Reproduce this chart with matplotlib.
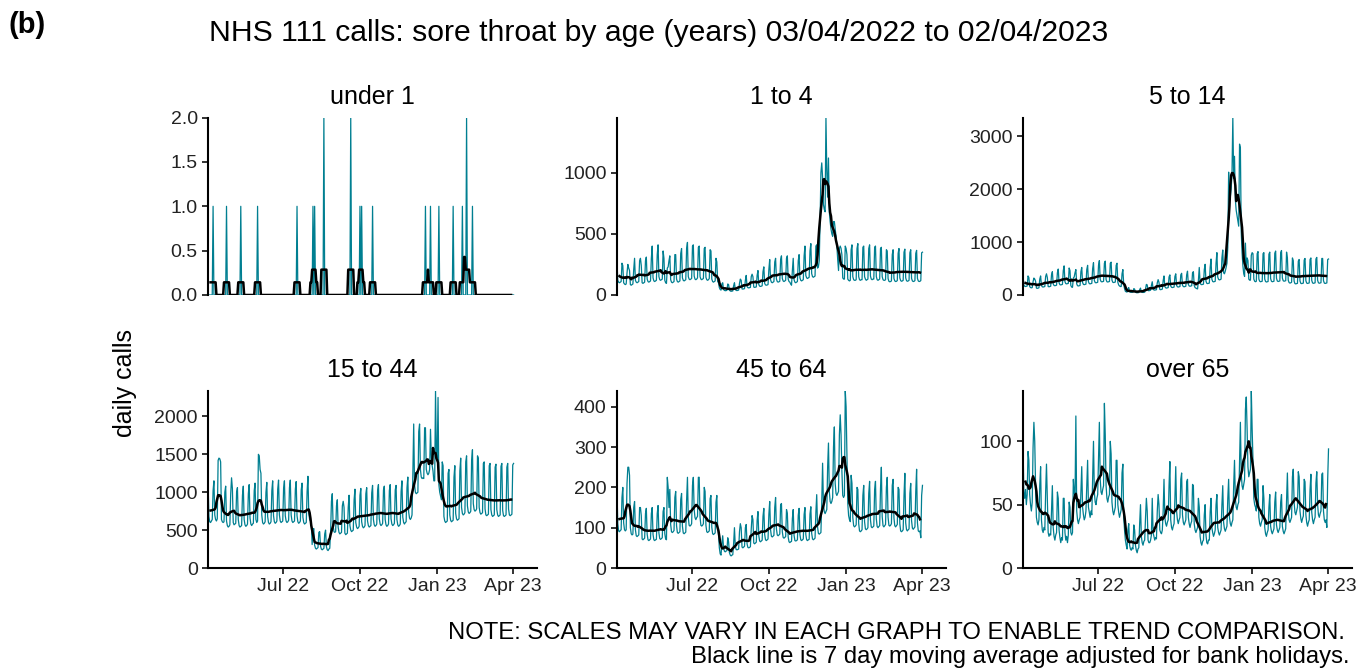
import numpy as np
import pandas as pd
import matplotlib
matplotlib.use("Agg")
from matplotlib import pyplot as plt
import matplotlib.dates as mdates
from matplotlib.ticker import MultipleLocator, FormatStrFormatter

plt.rcParams['font.family'] = ['Liberation Sans', 'DejaVu Sans']

# daily calls, one row per week (Sun..Sat), first day Sun 03/04/2022, last day Sun 02/04/2023
under_1 = [
    [0, 0, 0, 0, 0, 0, 1], [0, 0, 0, 0, 0, 0, 0], [0, 0, 0, 0, 0, 0, 0], [0, 1, 0, 0, 0, 0, 0],
    [0, 0, 0, 0, 0, 0, 0], [0, 0, 0, 0, 1, 0, 0], [0, 0, 0, 0, 0, 0, 0], [0, 0, 0, 0, 0, 0, 0],
    [0, 0, 0, 1, 0, 0, 0], [0, 0, 0, 0, 0, 0, 0], [0, 0, 0, 0, 0, 0, 0], [0, 0, 0, 0, 0, 0, 0],
    [0, 0, 0, 0, 0, 0, 0], [0, 0, 0, 0, 0, 0, 0], [0, 0, 0, 0, 0, 0, 0], [0, 1, 0, 0, 0, 0, 0],
    [0, 0, 0, 0, 0, 0, 0], [0, 0, 0, 0, 0, 0, 1], [0, 1, 0, 0, 0, 0, 0], [0, 0, 0, 0, 0, 2, 0],
    [0, 0, 0, 0, 0, 0, 0], [0, 0, 0, 0, 0, 0, 0], [0, 0, 0, 0, 0, 0, 0], [0, 0, 0, 0, 0, 0, 0],
    [0, 0, 2, 0, 0, 0, 0], [0, 0, 0, 0, 0, 0, 1], [0, 1, 0, 0, 0, 0, 0], [0, 0, 0, 0, 0, 0, 0],
    [1, 0, 0, 0, 0, 0, 0], [0, 0, 0, 0, 0, 0, 0], [0, 0, 0, 0, 0, 0, 0], [0, 0, 0, 0, 0, 0, 0],
    [0, 0, 0, 0, 0, 0, 0], [0, 0, 0, 0, 0, 0, 0], [0, 0, 0, 0, 0, 0, 0], [0, 0, 0, 0, 0, 0, 0],
    [0, 0, 0, 0, 0, 0, 0], [1, 0, 0, 0, 0, 0, 1], [0, 0, 0, 0, 0, 0, 0], [0, 0, 1, 0, 0, 0, 0],
    [0, 0, 0, 0, 0, 0, 0], [0, 0, 0, 0, 0, 1, 0], [0, 0, 0, 0, 0, 0, 0], [0, 0, 1, 0, 0, 0, 0],
    [2, 0, 0, 0, 0, 0, 0], [1, 0, 0, 0, 0, 0, 0], [0, 0, 0, 0, 0, 0, 0], [0, 0, 0, 0, 0, 0, 0],
    [0, 0, 0, 0, 0, 0, 0], [0, 0, 0, 0, 0, 0, 0], [0, 0, 0, 0, 0, 0, 0], [0, 0, 0, 0, 0, 0, 0],
    [0],
]

age_1_4 = [
    [280, 120, 105, 100, 105, 110, 260], [240, 100, 90, 85, 90, 180, 250],
    [220, 200, 85, 80, 85, 90, 210], [300, 120, 105, 100, 105, 110, 280],
    [300, 240, 100, 95, 100, 105, 280], [310, 130, 110, 105, 110, 115, 300],
    [400, 140, 115, 110, 115, 120, 330], [410, 150, 125, 120, 125, 130, 360],
    [300, 120, 100, 95, 220, 230, 280], [320, 125, 105, 100, 105, 110, 330],
    [330, 130, 110, 105, 110, 115, 340], [380, 140, 120, 115, 120, 125, 380],
    [430, 150, 130, 125, 130, 135, 400], [410, 155, 130, 125, 130, 140, 390],
    [400, 150, 130, 125, 130, 135, 380], [390, 145, 125, 120, 125, 135, 370],
    [360, 130, 110, 105, 110, 115, 300], [270, 110, 100, 60, 45, 40, 90],
    [100, 45, 38, 35, 36, 38, 90], [85, 40, 33, 30, 32, 33, 75],
    [100, 45, 38, 36, 38, 40, 95], [130, 120, 50, 48, 50, 52, 120],
    [160, 70, 60, 58, 60, 62, 150], [170, 150, 65, 62, 64, 66, 160],
    [200, 85, 72, 70, 72, 75, 190], [230, 95, 82, 80, 82, 85, 210],
    [290, 125, 105, 100, 105, 110, 270], [300, 130, 110, 105, 108, 112, 290],
    [320, 135, 115, 110, 115, 120, 300], [320, 130, 110, 105, 90, 80, 200],
    [300, 125, 105, 100, 105, 110, 280], [330, 140, 120, 115, 120, 125, 320],
    [400, 160, 140, 135, 140, 145, 360], [420, 175, 150, 145, 150, 155, 400],
    [410, 220, 230, 280, 600, 1000, 1080], [960, 740, 700, 680, 1450, 1020, 800],
    [1120, 680, 600, 540, 500, 480, 600], [600, 540, 480, 400, 290, 200, 380],
    [400, 380, 330, 140, 130, 130, 400], [380, 330, 130, 120, 115, 120, 370],
    [410, 150, 125, 120, 120, 125, 380], [420, 150, 125, 120, 125, 125, 390],
    [400, 150, 130, 120, 125, 130, 380], [410, 155, 130, 125, 130, 130, 390],
    [400, 150, 125, 120, 125, 130, 380], [390, 150, 125, 120, 120, 125, 370],
    [360, 135, 112, 108, 110, 115, 330], [370, 135, 115, 110, 112, 118, 340],
    [380, 140, 118, 112, 115, 120, 350], [375, 140, 117, 112, 115, 120, 345],
    [370, 135, 115, 110, 112, 118, 340], [365, 135, 115, 110, 112, 118, 345],
    [350],
]

age_5_14 = [
    [380, 190, 165, 160, 165, 170, 360], [330, 160, 140, 135, 140, 250, 320],
    [300, 260, 130, 125, 130, 135, 300], [360, 180, 155, 150, 155, 160, 350],
    [400, 330, 160, 155, 160, 165, 380], [440, 210, 180, 175, 180, 185, 420],
    [490, 230, 195, 190, 195, 200, 460], [550, 250, 215, 210, 215, 220, 510],
    [460, 180, 150, 145, 320, 340, 420], [480, 210, 175, 170, 175, 180, 440],
    [520, 235, 200, 195, 200, 205, 480], [560, 250, 215, 210, 215, 220, 500],
    [610, 275, 235, 230, 235, 240, 560], [650, 295, 255, 248, 252, 258, 600],
    [640, 290, 250, 245, 250, 255, 600], [620, 280, 240, 235, 240, 245, 560],
    [600, 240, 190, 170, 160, 160, 400], [480, 200, 120, 70, 60, 55, 120],
    [140, 62, 52, 50, 52, 54, 120], [110, 52, 44, 42, 44, 46, 100],
    [130, 58, 50, 48, 50, 52, 115], [200, 190, 85, 80, 85, 90, 180],
    [250, 110, 95, 92, 95, 100, 230], [290, 240, 105, 100, 105, 110, 270],
    [360, 160, 135, 130, 135, 140, 340], [380, 170, 145, 140, 145, 150, 350],
    [400, 180, 155, 150, 155, 160, 380], [410, 185, 160, 155, 160, 165, 380],
    [450, 200, 170, 165, 170, 175, 420], [440, 180, 140, 130, 120, 115, 280],
    [520, 235, 200, 195, 200, 205, 480], [580, 260, 220, 215, 220, 225, 520],
    [680, 300, 255, 248, 252, 258, 600], [800, 340, 295, 285, 290, 300, 700],
    [850, 420, 400, 450, 520, 600, 900], [2320, 1800, 1850, 2000, 2300, 3350, 2200],
    [2620, 1800, 1600, 1500, 1400, 1300, 2850], [2780, 1200, 800, 550, 400, 350, 980],
    [500, 700, 650, 300, 280, 280, 750], [800, 780, 300, 260, 250, 260, 780],
    [820, 300, 260, 250, 255, 260, 780], [800, 300, 255, 245, 250, 255, 770],
    [810, 310, 260, 250, 255, 260, 790], [830, 315, 265, 255, 260, 265, 800],
    [840, 320, 270, 260, 265, 270, 810], [700, 280, 235, 225, 230, 240, 700],
    [650, 260, 215, 210, 215, 220, 640], [670, 265, 220, 215, 220, 225, 660],
    [690, 270, 225, 218, 222, 228, 670], [700, 275, 228, 220, 225, 230, 680],
    [710, 278, 230, 222, 228, 232, 690], [690, 270, 225, 218, 222, 228, 670],
    [680],
]

age_15_44 = [
    [1140, 680, 610, 600, 620, 640, 1020], [1150, 700, 640, 620, 650, 1420, 1450],
    [1440, 1400, 640, 610, 600, 610, 1000], [1080, 620, 560, 540, 550, 570, 980],
    [1190, 1050, 600, 570, 580, 590, 1000], [1060, 640, 560, 540, 550, 560, 960],
    [1080, 640, 570, 550, 560, 580, 980], [1100, 660, 580, 560, 580, 590, 1020],
    [1120, 640, 600, 620, 1500, 1480, 1300], [1250, 700, 600, 580, 590, 610, 1000],
    [1130, 680, 600, 580, 590, 610, 1020], [1150, 690, 610, 590, 600, 620, 1040],
    [1160, 700, 620, 600, 610, 620, 1050], [1150, 690, 620, 600, 610, 630, 1060],
    [1160, 700, 620, 600, 610, 620, 1040], [1140, 690, 610, 590, 600, 620, 1030],
    [1120, 670, 600, 580, 590, 600, 1010], [1210, 720, 640, 620, 600, 310, 500],
    [520, 300, 260, 250, 260, 270, 470], [480, 290, 250, 240, 250, 260, 450],
    [500, 280, 240, 230, 250, 260, 470], [880, 980, 560, 480, 470, 480, 820],
    [900, 540, 470, 450, 460, 470, 820], [880, 800, 460, 440, 450, 460, 800],
    [960, 560, 500, 480, 490, 500, 900], [1040, 600, 540, 520, 530, 550, 960],
    [1050, 610, 550, 530, 540, 560, 980], [1060, 620, 560, 540, 550, 560, 990],
    [1090, 640, 570, 550, 560, 580, 1020], [1100, 650, 580, 560, 570, 590, 1030],
    [1080, 640, 570, 550, 560, 580, 1020], [1100, 650, 580, 560, 570, 590, 1030],
    [1090, 640, 570, 550, 560, 580, 1010], [1150, 670, 600, 580, 600, 610, 1060],
    [1200, 740, 660, 640, 660, 700, 1250], [1900, 1100, 1000, 980, 990, 1000, 1800],
    [1900, 1300, 1200, 1180, 1190, 1180, 1850], [1850, 1300, 1250, 1230, 1250, 1300, 1830],
    [1450, 1350, 1280, 1150, 1150, 2340, 1500], [1450, 2250, 1100, 1000, 950, 900, 1400],
    [1350, 680, 620, 600, 610, 620, 1250], [1300, 700, 630, 610, 620, 630, 1200],
    [1350, 720, 650, 630, 640, 650, 1280], [1450, 800, 720, 700, 710, 730, 1400],
    [1480, 820, 740, 720, 730, 750, 1420], [1560, 850, 770, 750, 760, 780, 1480],
    [1450, 800, 730, 710, 720, 730, 1380], [1400, 780, 700, 690, 700, 710, 1350],
    [1380, 770, 700, 680, 690, 700, 1330], [1370, 770, 700, 680, 690, 700, 1340],
    [1380, 760, 690, 680, 690, 700, 1330], [1380, 780, 700, 690, 700, 710, 1360],
    [1380],
]

age_45_64 = [
    [195, 110, 92, 90, 93, 95, 175], [200, 112, 95, 92, 95, 210, 250],
    [250, 230, 100, 85, 82, 84, 150], [165, 95, 80, 78, 80, 82, 150],
    [150, 130, 72, 70, 72, 74, 135], [148, 84, 70, 68, 70, 72, 135],
    [150, 83, 70, 68, 70, 71, 135], [155, 87, 73, 71, 73, 75, 140],
    [150, 85, 72, 70, 225, 200, 150], [195, 108, 90, 88, 90, 93, 175],
    [190, 105, 88, 86, 88, 90, 170], [185, 104, 87, 85, 87, 89, 168],
    [225, 126, 106, 104, 106, 110, 205], [225, 145, 125, 120, 125, 128, 225],
    [225, 126, 106, 104, 106, 110, 200], [190, 106, 90, 88, 90, 92, 172],
    [180, 101, 85, 83, 85, 87, 163], [180, 100, 85, 50, 35, 32, 60],
    [80, 50, 42, 40, 42, 43, 75], [65, 38, 32, 30, 32, 33, 60],
    [100, 55, 46, 45, 46, 47, 90], [110, 100, 52, 50, 52, 54, 100],
    [108, 60, 51, 50, 51, 53, 97], [130, 120, 62, 60, 62, 64, 118],
    [140, 80, 67, 65, 67, 69, 128], [148, 83, 70, 68, 70, 72, 133],
    [165, 95, 79, 77, 79, 81, 150], [175, 97, 82, 80, 82, 84, 157],
    [160, 90, 76, 74, 76, 78, 145], [136, 77, 65, 63, 65, 66, 123],
    [145, 81, 68, 67, 68, 70, 131], [148, 83, 70, 68, 70, 72, 133],
    [150, 83, 70, 68, 70, 71, 134], [152, 86, 72, 70, 72, 74, 138],
    [182, 102, 86, 84, 86, 88, 164], [260, 160, 140, 135, 140, 145, 250],
    [310, 190, 165, 160, 165, 175, 300], [350, 210, 185, 180, 185, 190, 330],
    [380, 330, 240, 180, 175, 180, 440], [400, 280, 160, 130, 120, 115, 230],
    [210, 125, 105, 102, 104, 107, 200], [195, 110, 92, 90, 92, 95, 180],
    [205, 115, 97, 95, 97, 100, 185], [215, 120, 102, 100, 102, 104, 195],
    [215, 122, 103, 100, 103, 105, 197], [250, 128, 105, 102, 105, 108, 200],
    [225, 126, 106, 104, 106, 110, 205], [220, 124, 105, 102, 105, 108, 200],
    [195, 110, 92, 90, 92, 95, 180], [235, 112, 95, 92, 95, 97, 185],
    [210, 117, 99, 96, 99, 102, 190], [245, 112, 92, 90, 92, 75, 180],
    [205],
]

age_over_65 = [
    [100, 60, 55, 62, 50, 58, 92], [85, 58, 50, 45, 52, 95, 115],
    [100, 65, 40, 36, 34, 38, 65], [80, 38, 30, 28, 32, 30, 60],
    [82, 55, 28, 25, 27, 26, 45], [65, 32, 25, 22, 26, 28, 60],
    [55, 30, 24, 20, 24, 22, 55], [55, 28, 22, 25, 20, 26, 52],
    [48, 28, 26, 28, 70, 60, 55], [120, 45, 38, 35, 38, 40, 60],
    [80, 48, 42, 38, 40, 45, 65], [85, 48, 44, 40, 45, 42, 70],
    [100, 60, 52, 50, 55, 58, 85], [115, 70, 60, 58, 62, 65, 130],
    [105, 65, 55, 52, 56, 58, 100], [90, 52, 45, 42, 45, 48, 85],
    [85, 50, 44, 40, 43, 46, 75], [82, 40, 30, 22, 18, 15, 30],
    [35, 18, 15, 14, 16, 15, 34], [30, 18, 14, 12, 15, 16, 35],
    [50, 25, 20, 18, 21, 22, 40], [55, 45, 22, 20, 20, 22, 26],
    [55, 28, 25, 22, 24, 23, 45], [58, 50, 30, 28, 27, 30, 45],
    [70, 40, 35, 33, 36, 38, 65], [84, 38, 32, 30, 33, 35, 55],
    [80, 45, 38, 35, 38, 40, 70], [75, 42, 36, 34, 36, 38, 68],
    [70, 40, 35, 32, 35, 37, 66], [65, 35, 30, 28, 30, 32, 55],
    [48, 25, 20, 18, 21, 22, 42], [50, 26, 20, 19, 22, 22, 44],
    [55, 32, 28, 25, 27, 30, 50], [58, 32, 28, 26, 28, 30, 50],
    [65, 36, 31, 29, 31, 33, 55], [70, 40, 35, 33, 36, 38, 65],
    [85, 55, 48, 46, 50, 52, 85], [115, 75, 65, 62, 66, 70, 125],
    [135, 110, 80, 72, 75, 78, 140], [110, 85, 55, 50, 48, 45, 70],
    [70, 40, 35, 33, 36, 38, 65], [55, 32, 27, 25, 28, 30, 48],
    [58, 33, 29, 27, 29, 31, 52], [60, 34, 30, 28, 30, 32, 52],
    [58, 33, 29, 27, 29, 31, 52], [75, 45, 38, 36, 38, 40, 72],
    [78, 52, 44, 42, 45, 48, 76], [72, 45, 39, 36, 39, 41, 70],
    [68, 42, 36, 33, 36, 38, 62], [74, 44, 38, 35, 38, 40, 67],
    [76, 50, 42, 40, 43, 45, 74], [75, 45, 38, 36, 38, 32, 70],
    [94],
]

# bank holidays left out of the moving average
bank_holidays = ["2022-04-15", "2022-04-18", "2022-05-02", "2022-06-02", "2022-06-03",
                 "2022-08-29", "2022-09-19", "2022-12-26", "2022-12-27", "2023-01-02"]

titles = ["under 1", "1 to 4", "5 to 14", "15 to 44", "45 to 64", "over 65"]
series = [under_1, age_1_4, age_5_14, age_15_44, age_45_64, age_over_65]
tick_steps = [0.5, 500, 1000, 500, 100, 50]

dates = pd.date_range("2022-04-03", "2023-04-02", freq="D")
x_ticks = pd.to_datetime(["2022-07-01", "2022-10-01", "2023-01-01", "2023-04-01"])
is_bh = dates.isin(pd.to_datetime(bank_holidays))
teal = "#007F91"

fig = plt.figure(figsize=(13.58, 6.68), dpi=100)

lefts = [0.1532, 0.4543, 0.7533]
bottoms = [0.5584, 0.1497]
w, h = 0.2423, 0.2655

for i, (name, weeks) in enumerate(zip(titles, series)):
    row, col = divmod(i, 3)
    ax = fig.add_axes([lefts[col], bottoms[row], w, h])
    daily = np.array([v for wk in weeks for v in wk], dtype=float)
    s = pd.Series(daily, index=dates)
    if i == 0:
        ma = s.rolling(7, center=True).mean()
    else:
        ma = s.mask(is_bh).rolling(7, center=True, min_periods=5).mean()
        ma.iloc[:3] = np.nan
        ma.iloc[-3:] = np.nan

    ax.plot(dates, daily, color=teal, lw=0.9)
    ax.plot(dates, ma, color="black", lw=1.8)

    ax.set_xlim(pd.Timestamp("2022-04-03"), pd.Timestamp("2023-04-30"))
    ax.set_ylim(0, daily.max())
    ax.yaxis.set_major_locator(MultipleLocator(tick_steps[i]))
    if i == 0:
        ax.yaxis.set_major_formatter(FormatStrFormatter("%.1f"))

    for sp in ["top", "right"]:
        ax.spines[sp].set_visible(False)
    ax.spines["left"].set_linewidth(1.5)
    ax.spines["bottom"].set_linewidth(1.5)
    ax.tick_params(axis="both", length=4, width=1.3, labelsize=14, colors="#222222", labelcolor="#222222")

    if row == 0:
        ax.spines["bottom"].set_visible(False)
        ax.set_xticks([])
    else:
        ax.set_xticks(x_ticks)
        ax.xaxis.set_major_formatter(mdates.DateFormatter("%b %y"))

    ax.set_title(name, fontsize=18, pad=10)

fig.text(0.006, 0.962, "(b)", fontsize=21, fontweight="bold", va="center")
fig.text(0.485, 0.950, "NHS 111 calls: sore throat by age (years) 03/04/2022 to 02/04/2023",
         fontsize=21.7, ha="center", va="center")
fig.text(0.092, 0.427, "daily calls", fontsize=18, rotation=90, ha="center", va="center")
fig.text(0.990, 0.052, "NOTE: SCALES MAY VARY IN EACH GRAPH TO ENABLE TREND COMPARISON.",
         fontsize=17.2, ha="right", va="center")
fig.text(0.994, 0.016, "Black line is 7 day moving average adjusted for bank holidays.",
         fontsize=17.2, ha="right", va="center")

fig.savefig("out.png", dpi=100)
